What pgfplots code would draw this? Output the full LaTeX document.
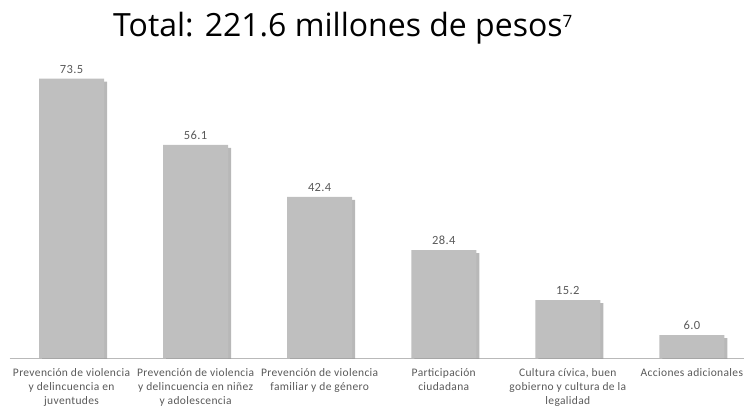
\documentclass[border=0pt]{standalone}
\usepackage{pgfplots}
\pgfplotsset{compat=1.18}
\usepackage{fontspec}
\setmainfont{Carlito}
\newfontfamily\lblfont[LetterSpace=3]{Carlito}
\newfontfamily\titlefont{Open Sans}
\usetikzlibrary{shadows}
\definecolor{barg}{HTML}{BFBFBF}
\definecolor{shad}{HTML}{9A9A9A}
\definecolor{txtg}{HTML}{595959}
\begin{document}
\begin{tikzpicture}
\begin{axis}[
  at={(0pt,0pt)}, anchor=south west,
  scale only axis, width=734.5pt, height=298pt,
  xmin=-0.5, xmax=5.42, ymin=0, ymax=78.42,
  axis y line=none, axis x line*=bottom,
  x axis line style={draw=gray!55, -},
  xtick={0,1,2,3,4,5}, major tick length=0pt,
  xticklabels={
    {Prevención de violencia\\y delincuencia en\\juventudes},
    {Prevención de violencia\\y delincuencia en niñez\\y adolescencia},
    {Prevención de violencia\\familiar y de género},
    {Participación\\ciudadana},
    {Cultura cívica, buen\\gobierno y cultura de la\\legalidad},
    {Acciones adicionales}},
  xticklabel style={align=center, font=\lblfont\fontsize{11.5}{13.8}\selectfont, text=txtg, yshift=-7pt},
  ybar, bar width=65pt,
  nodes near coords,
  /pgf/number format/assume math mode=true,
  nodes near coords style={font=\lblfont\fontsize{12.5}{13}\selectfont, text=txtg, /pgf/number format/fixed, /pgf/number format/fixed zerofill, /pgf/number format/precision=1, yshift=2pt},
  clip=true,
]
\addplot[fill=barg, draw=none, drop shadow={shadow xshift=3pt, shadow yshift=-3pt, fill=shad, opacity=0.7}] coordinates {(0,73.5) (1,56.1) (2,42.4) (3,28.4) (4,15.2) (5,6.0)};
\end{axis}
\node[font=\titlefont\fontsize{32}{36}\selectfont, anchor=base west, inner sep=0pt] at (103.5pt,321pt) {Total: 221.6 millones de pesos\raisebox{0.3em}{\fontsize{17}{18}\selectfont 7}};
\pgfresetboundingbox
\path (-9.5pt,-52pt) rectangle (734.5pt,358pt);
\end{tikzpicture}
\end{document}
